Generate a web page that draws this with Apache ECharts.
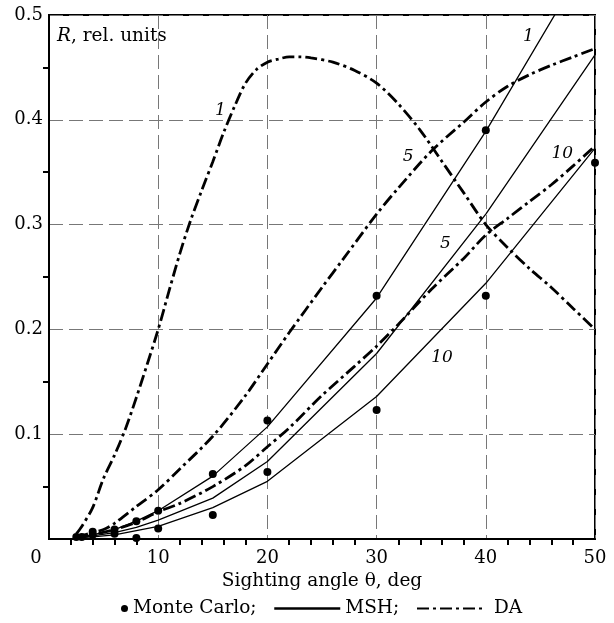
<!DOCTYPE html>
<html><head><meta charset="utf-8">
<script src="https://cdn.jsdelivr.net/npm/echarts@6/dist/echarts.min.js"></script>
<style>html,body{margin:0;padding:0;background:#fff}#c{width:614px;height:623px}</style>
</head><body><div id="c"></div>
<script>
// ---- data ----
const xTicks = [0, 10, 20, 30, 40, 50];
const yTicks = [0.1, 0.2, 0.3, 0.4, 0.5];
const mcAngles = [2.5, 3, 4, 4, 6, 6, 8, 8, 10, 10, 15, 15, 20, 20, 30, 30, 40, 40, 50];
const mcValues = [0.002, 0.002, 0.004, 0.007, 0.005, 0.009, 0.001, 0.017, 0.01, 0.027, 0.023, 0.062, 0.064, 0.113, 0.123, 0.232, 0.232, 0.39, 0.359];
const mshAngles = [2.5, 4, 6, 8, 10, 15, 20, 30, 40, 50];
const msh1 = [0.001, 0.004, 0.009, 0.017, 0.027, 0.06, 0.107, 0.23, 0.389, 0.565];
const msh5 = [0.001, 0.003, 0.006, 0.011, 0.018, 0.039, 0.074, 0.177, 0.31, 0.462];
const msh10 = [0.001, 0.002, 0.004, 0.008, 0.012, 0.03, 0.055, 0.136, 0.244, 0.373];
const da1Angles = [2.5, 3, 4, 5, 6, 7, 8, 9, 10, 11, 12, 13, 14, 15, 16, 17, 18, 19, 20, 21, 22, 23, 24, 26, 28, 30, 32, 34, 36, 38, 40, 42, 44, 46, 48, 50];
const da1 = [0.005, 0.012, 0.03, 0.058, 0.08, 0.105, 0.135, 0.167, 0.2, 0.237, 0.273, 0.305, 0.333, 0.36, 0.388, 0.413, 0.435, 0.448, 0.455, 0.458, 0.46, 0.46, 0.459, 0.455, 0.447, 0.435, 0.415, 0.39, 0.36, 0.33, 0.3, 0.278, 0.258, 0.24, 0.22, 0.2];
const da5Angles = [2.5, 4, 5, 6, 8, 10, 12, 15, 18, 20, 22, 25, 27, 30, 32, 35, 38, 40, 42, 44, 46, 48, 50];
const da5 = [0.002, 0.006, 0.009, 0.015, 0.031, 0.047, 0.067, 0.098, 0.137, 0.167, 0.197, 0.24, 0.268, 0.31, 0.335, 0.37, 0.398, 0.417, 0.432, 0.443, 0.452, 0.46, 0.468];
const da10Angles = [2.5, 4, 6, 8, 10, 12, 15, 18, 20, 22, 25, 28, 30, 32, 35, 38, 40, 42, 44, 46, 48, 50];
const da10 = [0.001, 0.004, 0.009, 0.016, 0.026, 0.034, 0.05, 0.07, 0.088, 0.106, 0.137, 0.165, 0.184, 0.205, 0.238, 0.268, 0.29, 0.306, 0.322, 0.338, 0.356, 0.375];
const labelX = [15.7, 43.9, 32.9, 36.3, 47.0, 36.0];
const labelY = [0.409, 0.479, 0.365, 0.282, 0.368, 0.173];
const labelText = ['1', '1', '5', '5', '10', '10'];

// ---- chart ----
const FF = 'DejaVu Serif';
const pairs = (xs, ys) => xs.map((x, i) => [x, ys[i]]);
const DASHDOT = [12, 4, 3, 4];
const mshStyle = { color: '#000', width: 1.3, type: 'solid' };
const daStyle = { color: '#000', width: 2.8, type: DASHDOT };
const lineSeries = (name, data, style, smooth) => ({
  type: 'line', name, data, symbol: 'none', showSymbol: false, smooth: smooth,
  lineStyle: style, itemStyle: { color: '#000' }, clip: true, silent: true, z: 3
});
const legendText = { fontFamily: FF, fontSize: 18.5, color: '#000' };

const chart = echarts.init(document.getElementById('c'), null, { renderer: 'canvas' });
chart.setOption({
  animation: false,
  backgroundColor: '#fff',
  grid: { left: 49, top: 15, width: 546, height: 524, show: true, borderColor: '#000', borderWidth: 2, backgroundColor: 'transparent' },
  xAxis: {
    type: 'value', min: 0, max: 50, interval: 10,
    name: 'Sighting angle \u03b8, deg', nameLocation: 'middle', nameGap: 30,
    nameTextStyle: { fontFamily: FF, fontSize: 18.5, color: '#000' },
    axisLine: { lineStyle: { color: '#000', width: 2 } },
    axisTick: { show: false },
    minorTick: { show: true, splitNumber: 5, length: 6, lineStyle: { color: '#000', width: 2 } },
    minorSplitLine: { show: false },
    axisLabel: {
      fontFamily: FF, fontSize: 18, color: '#000', margin: 10,
      formatter: v => v === 0 ? '{o|0}' : String(v),
      rich: { o: { fontFamily: FF, fontSize: 18, color: '#000', padding: [0, 26, 0, 0] } }
    },
    splitLine: { show: true, lineStyle: { color: '#777', width: 1, type: [14, 6] } }
  },
  yAxis: {
    type: 'value', min: 0, max: 0.5, interval: 0.1,
    axisLine: { lineStyle: { color: '#000', width: 2 } },
    axisTick: { show: false },
    minorTick: { show: true, splitNumber: 2, length: 6, lineStyle: { color: '#000', width: 2 } },
    axisLabel: {
      fontFamily: FF, fontSize: 18, color: '#000', margin: 6,
      formatter: v => (v === 0 ? '' : (yTicks.find(t => Math.abs(t - v) < 1e-9) || v).toFixed(1))
    },
    splitLine: { show: true, lineStyle: { color: '#777', width: 1, type: [14, 6] } }
  },
  legend: [
    { data: ['Monte Carlo'], left: 116, top: 594, itemWidth: 7, itemHeight: 7, selectedMode: false,
      itemStyle: { opacity: 1, color: '#000' },
      formatter: n => n + ';', textStyle: legendText },
    { data: ['MSH'], left: 268, top: 594, itemWidth: 66, itemHeight: 3, selectedMode: false,
      itemStyle: { opacity: 0 }, lineStyle: { width: 2.5 },
      formatter: n => n + ';', textStyle: legendText },
    { data: ['DA'], left: 411, top: 594, itemWidth: 66, itemHeight: 3, selectedMode: false,
      itemStyle: { opacity: 0 }, lineStyle: { width: 2 },
      textStyle: Object.assign({ padding: [0, 0, 0, 6] }, legendText) }
  ],
  graphic: [
    { type: 'text', left: 57, top: 27, silent: true,
      style: { text: '{i|R}, rel. units', fill: '#000', font: '18.5px "DejaVu Serif"',
        rich: { i: { fontStyle: 'italic', fontFamily: FF, fontSize: 18.5, fill: '#000' } } } }
  ],
  series: [
    { type: 'scatter', name: 'Monte Carlo', data: pairs(mcAngles, mcValues), symbol: 'circle', symbolSize: 8,
      itemStyle: { color: '#000', opacity: 1 }, clip: false, silent: true, z: 5 },
    lineSeries('MSH', pairs(mshAngles, msh1), mshStyle, false),
    lineSeries('MSH', pairs(mshAngles, msh5), mshStyle, false),
    lineSeries('MSH', pairs(mshAngles, msh10), mshStyle, false),
    lineSeries('DA', pairs(da1Angles, da1), daStyle, 0.3),
    lineSeries('DA', pairs(da5Angles, da5), daStyle, 0.3),
    lineSeries('DA', pairs(da10Angles, da10), daStyle, 0.3),
    { type: 'scatter', name: 'labels', data: labelX.map((x, i) => [x, labelY[i], labelText[i]]),
      symbolSize: 0, silent: true, z: 6, itemStyle: { color: '#000', opacity: 1 },
      label: { show: true, position: 'inside', formatter: p => p.data[2],
        fontFamily: FF, fontSize: 17, fontStyle: 'italic', color: '#000', opacity: 1 } }
  ]
});
</script></body></html>
